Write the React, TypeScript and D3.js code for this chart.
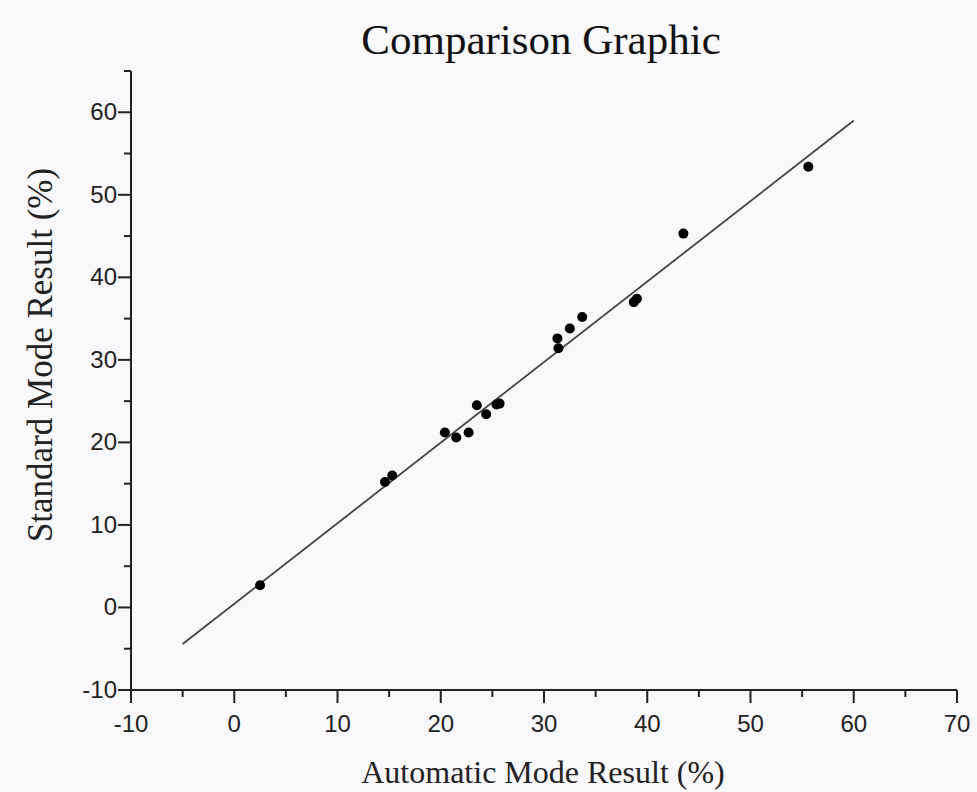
import React, { useEffect, useRef } from "react";
import * as d3 from "d3";

const automatic = [2.5, 14.6, 15.3, 20.4, 21.5, 22.7, 23.5, 24.4, 25.4, 25.7, 31.3, 31.4, 32.5, 33.7, 38.7, 39.0, 43.5, 55.6];
const standard = [2.7, 15.2, 16.0, 21.2, 20.6, 21.2, 24.5, 23.4, 24.6, 24.7, 32.6, 31.4, 33.8, 35.2, 37.0, 37.4, 45.3, 53.4];
const fitStart = [-5, -4.43];
const fitEnd = [60, 59.0];
const xTicks = [-10, 0, 10, 20, 30, 40, 50, 60, 70];
const yTicks = [-10, 0, 10, 20, 30, 40, 50, 60];

const ComparisonChart = () => {
    const chartRef = useRef<HTMLDivElement>(null);

    useEffect(() => {
        d3.select(chartRef.current).select("svg").remove();

        const W = 977;
        const H = 792;
        const margin = { top: 71, right: 20, bottom: 102, left: 131 };

        const svg = d3
            .select(chartRef.current)
            .append("svg")
            .attr("width", W)
            .attr("height", H)
            .style("position", "absolute")
            .style("left", "0px")
            .style("top", "0px");

        svg.append("rect").attr("width", W).attr("height", H).attr("fill", "#f8f7f9");

        const xScale = d3.scaleLinear().domain([-10, 70]).range([margin.left, 957]);
        const yScale = d3.scaleLinear().domain([-10, 65]).range([H - margin.bottom, margin.top]);

        const axisColor = "#222";

        // x axis
        const xAxis = svg.append("g").attr("transform", `translate(0,${yScale(-10)})`);
        xAxis.append("line")
            .attr("x1", xScale(-10)).attr("x2", xScale(70))
            .attr("stroke", axisColor).attr("stroke-width", 2);
        xAxis.selectAll(".minor")
            .data(d3.range(-5, 70, 10))
            .enter().append("line")
            .attr("x1", (d) => xScale(d)).attr("x2", (d) => xScale(d))
            .attr("y1", 0).attr("y2", 7)
            .attr("stroke", axisColor).attr("stroke-width", 2);
        xAxis.selectAll(".major")
            .data(xTicks)
            .enter().append("line")
            .attr("x1", (d) => xScale(d)).attr("x2", (d) => xScale(d))
            .attr("y1", 0).attr("y2", 13)
            .attr("stroke", axisColor).attr("stroke-width", 2);
        xAxis.selectAll(".lbl")
            .data(xTicks)
            .enter().append("text")
            .attr("x", (d) => xScale(d))
            .attr("y", 42)
            .attr("text-anchor", "middle")
            .style("font-family", "'Liberation Sans', Arial, sans-serif")
            .style("font-size", "24px")
            .attr("fill", "#222")
            .text((d) => d);

        // y axis
        const yAxis = svg.append("g").attr("transform", `translate(${xScale(-10)},0)`);
        yAxis.append("line")
            .attr("y1", yScale(-10)).attr("y2", yScale(65))
            .attr("stroke", axisColor).attr("stroke-width", 2);
        yAxis.selectAll(".minor")
            .data(d3.range(-5, 66, 10))
            .enter().append("line")
            .attr("y1", (d) => yScale(d)).attr("y2", (d) => yScale(d))
            .attr("x1", 0).attr("x2", -7)
            .attr("stroke", axisColor).attr("stroke-width", 2);
        yAxis.selectAll(".major")
            .data(yTicks)
            .enter().append("line")
            .attr("y1", (d) => yScale(d)).attr("y2", (d) => yScale(d))
            .attr("x1", 0).attr("x2", -13)
            .attr("stroke", axisColor).attr("stroke-width", 2);
        yAxis.selectAll(".lbl")
            .data(yTicks)
            .enter().append("text")
            .attr("x", -14)
            .attr("y", (d) => yScale(d) + 8)
            .attr("text-anchor", "end")
            .style("font-family", "'Liberation Sans', Arial, sans-serif")
            .style("font-size", "24px")
            .attr("fill", "#222")
            .text((d) => d);

        // fitted line
        svg.append("line")
            .attr("x1", xScale(fitStart[0])).attr("y1", yScale(fitStart[1]))
            .attr("x2", xScale(fitEnd[0])).attr("y2", yScale(fitEnd[1]))
            .attr("stroke", "#444")
            .attr("stroke-width", 1.8);

        // points
        svg.selectAll(".pt")
            .data(automatic.map((a, i) => ({ a, s: standard[i] })))
            .enter().append("circle")
            .attr("cx", (d) => xScale(d.a))
            .attr("cy", (d) => yScale(d.s))
            .attr("r", 5)
            .attr("fill", "#000");

        // title + axis labels
        svg.append("text")
            .attr("x", 541)
            .attr("y", 54)
            .attr("text-anchor", "middle")
            .style("font-family", "'Liberation Serif', 'Times New Roman', serif")
            .style("font-size", "43px")
            .attr("fill", "#111")
            .text("Comparison Graphic");

        svg.append("text")
            .attr("x", 543)
            .attr("y", 783)
            .attr("text-anchor", "middle")
            .style("font-family", "'Liberation Serif', 'Times New Roman', serif")
            .style("font-size", "32px")
            .attr("fill", "#222")
            .text("Automatic Mode Result (%)");

        svg.append("text")
            .attr("transform", `translate(52,${355}) rotate(-90)`)
            .attr("text-anchor", "middle")
            .style("font-family", "'Liberation Serif', 'Times New Roman', serif")
            .style("font-size", "35px")
            .attr("fill", "#222")
            .text("Standard Mode Result (%)");
    }, []);

    return <div ref={chartRef}></div>;
};

export default function App() {
    return <ComparisonChart />;
}
